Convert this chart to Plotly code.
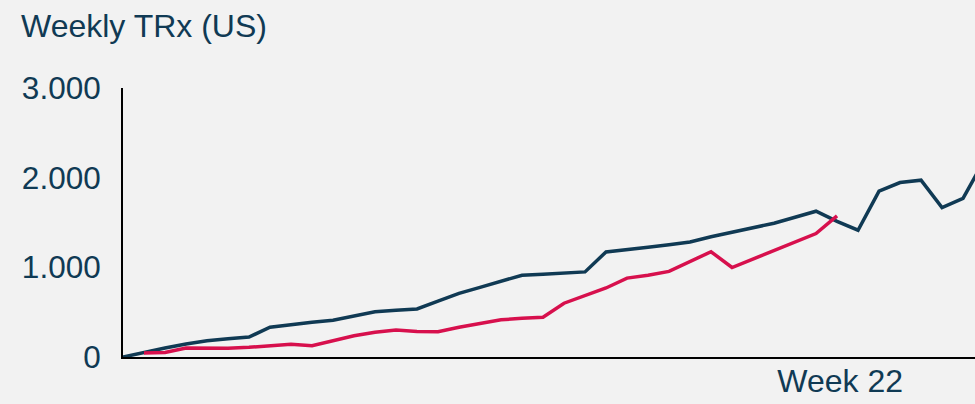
import plotly.graph_objects as go

# Week index (0 = launch week); tick label shown near week index 34
weeks = list(range(42))
navy_values = [0, 55, 100, 145, 180, 203, 222, 332, 362, 387, 410, 460, 504, 521, 536,
               622, 710, 777, 845, 912, 923, 934, 949, 1172, 1202, 1224, 1252, 1282,
               1341, 1390, 1433, 1492, 1559, 1626, 1512, 1414, 1849, 1946, 1972, 1667,
               1768, 2190]
red_values = [None, 45, 50, 100, 97, 97, 108, 125, 142, 125, 186, 237, 276, 300, 285,
              282, 331, 370, 415, 432, 443, 600, 689, 770, 880, 912, 955, 1068, 1174,
              998, 1095, 1191, 1286, 1377, 1574, None, None, None, None, None, None, None]
x_tick_vals = [34.15]
x_tick_text = ["Week 22"]
y_tick_vals = [0, 1000, 2000, 3000]
y_tick_text = ["0", "1.000", "2.000", "3.000"]

NAVY = "#103a54"
RED = "#d7104d"
BG = "#f2f2f2"
FONT = "Liberation Sans, Arial, sans-serif"

fig = go.Figure()
fig.add_trace(go.Scatter(x=weeks, y=navy_values, mode="lines",
                         line=dict(color=NAVY, width=3.5), showlegend=False))
fig.add_trace(go.Scatter(x=weeks, y=red_values, mode="lines",
                         line=dict(color=RED, width=3.5), showlegend=False))

fig.update_layout(
    width=975, height=404,
    margin=dict(l=123, r=0, t=88, b=47),
    paper_bgcolor=BG, plot_bgcolor=BG,
    font=dict(family=FONT, color=NAVY, size=31),
    title=dict(text="Weekly TRx (US)", x=21 / 975, xref="container", xanchor="left",
               y=1 - 26 / 404, yref="container", yanchor="middle",
               font=dict(family=FONT, color=NAVY, size=32)),
    xaxis=dict(range=[0, 40.57], showgrid=False, zeroline=False, showline=True,
               linecolor="black", linewidth=1.5, tickvals=x_tick_vals,
               ticktext=x_tick_text, ticks="", ticklabelstandoff=-5,
               tickfont=dict(family=FONT, color=NAVY, size=32)),
    yaxis=dict(range=[0, 3000], showgrid=False, zeroline=False, showline=True,
               linecolor="black", linewidth=2, tickvals=y_tick_vals,
               ticktext=y_tick_text, ticks="", ticklabelstandoff=14,
               tickfont=dict(family=FONT, color=NAVY, size=31.5)),
)

fig.write_html(
    "out.html",
    config={"displayModeBar": False},
    post_script="document.body.style.margin='0';document.body.style.background='#f2f2f2';",
)
